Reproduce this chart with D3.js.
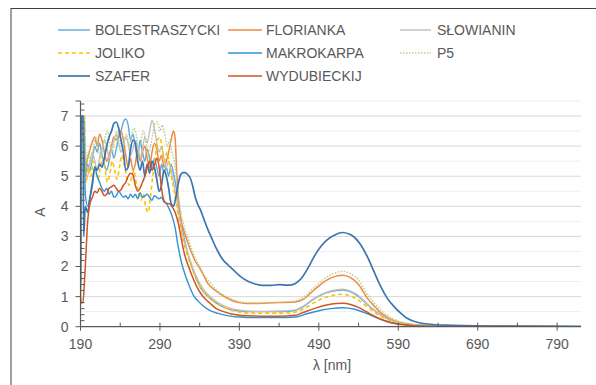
<!DOCTYPE html>
<html><head><meta charset="utf-8">
<script src="https://cdn.jsdelivr.net/npm/d3@7"></script>
<style>
html,body{margin:0;padding:0;background:#fff;}
svg{display:block;font-family:"Liberation Sans",Arial,sans-serif;}
</style></head>
<body><svg id="c" width="596" height="385"></svg>
<script>
// ---- data (λ [nm], A) ----
const seriesNames = ["BOLESTRASZYCKI","FLORIANKA","SŁOWIANIN","JOLIKO","MAKROKARPA","P5","SZAFER","WYDUBIECKIJ"];
const xTicks = [190,290,390,490,590,690,790];
const yTicks = [0,1,2,3,4,5,6,7];

const bolestraszycki = [[190,1.2],[191,7],[194,7],[196,5.0],[199,5.4],[202,5.2],[205,5.6],[208,6.0],[211,5.8],[214,6.1],[217,5.7],[220,5.4],[223,5.2],[226,5.5],[229,5.9],[232,5.6],[235,5.9],[238,6.3],[241,6.5],[244,6.8],[247,6.9],[250,6.7],[253,6.2],[256,6.4],[259,6.0],[262,5.6],[265,6.2],[268,5.8],[271,5.5],[274,5.9],[277,5.6],[280,5.2],[283,5.6],[286,5.3],[289,5.0],[292,5.4],[295,5.1],[298,5.3],[301,5.0],[304,5.4],[307,5.1],[310,4.7],[313,4.2],[316,3.6],[320,3.0],[325,2.45],[330,2.0],[335,1.65],[340,1.35],[345,1.15],[353,0.95],[360,0.8],[370,0.65],[380,0.56],[390,0.52],[400,0.5],[420,0.5],[440,0.5],[460,0.54],[470,0.66],[484,0.92],[500,1.13],[512,1.2],[520,1.22],[530,1.16],[540,1.0],[551,0.74],[560,0.54],[570,0.35],[580,0.22],[595,0.11],[610,0.06],[630,0.03],[680,0.01],[820,0.0]];
const florianka = [[190,1.3],[191,7],[194,7],[196,5.3],[199,5.6],[202,5.9],[205,6.15],[208,6.3],[211,6.0],[214,6.4],[217,6.2],[220,5.8],[223,5.5],[226,5.7],[229,6.0],[232,6.3],[235,6.2],[238,6.4],[241,6.5],[244,6.2],[247,5.7],[250,5.3],[253,5.6],[256,5.2],[259,5.4],[262,5.9],[265,5.5],[268,5.8],[271,6.0],[274,5.6],[277,5.3],[280,5.8],[283,6.1],[286,5.9],[289,5.5],[292,5.7],[295,5.3],[298,5.5],[301,5.8],[304,6.2],[307,6.5],[309,6.3],[311,5.2],[313,4.3],[316,3.6],[320,3.2],[325,2.8],[330,2.45],[335,2.15],[340,1.95],[345,1.7],[350,1.45],[360,1.2],[370,1.02],[380,0.88],[390,0.8],[400,0.77],[420,0.78],[440,0.8],[460,0.82],[470,0.9],[484,1.22],[500,1.55],[512,1.68],[520,1.71],[530,1.63],[540,1.4],[551,0.95],[560,0.68],[568,0.46],[577,0.3],[585,0.2],[600,0.1],[620,0.05],[650,0.02],[700,0.01],[820,0.0]];
const slowianin = [[190,1.2],[191,7],[194,7],[196,5.2],[199,5.0],[202,5.5],[205,5.8],[208,5.5],[211,5.2],[214,5.6],[217,5.9],[220,6.2],[223,6.0],[226,5.6],[229,5.9],[232,6.2],[235,6.4],[238,6.1],[241,5.8],[244,6.0],[247,6.3],[250,6.1],[253,5.7],[256,5.9],[259,6.2],[262,6.0],[265,5.6],[268,5.9],[271,6.3],[274,6.1],[277,6.5],[280,6.85],[283,6.6],[286,6.1],[289,5.8],[292,6.0],[295,5.6],[298,5.3],[301,5.5],[304,5.2],[307,4.8],[310,4.4],[313,3.9],[316,3.4],[320,2.9],[325,2.45],[330,2.05],[335,1.72],[340,1.45],[346,1.2],[353,1.0],[360,0.85],[370,0.7],[380,0.6],[390,0.55],[400,0.52],[420,0.51],[440,0.52],[460,0.56],[470,0.68],[484,0.94],[500,1.15],[512,1.23],[520,1.25],[530,1.18],[540,1.03],[551,0.76],[560,0.55],[570,0.36],[580,0.22],[595,0.11],[610,0.06],[630,0.03],[680,0.01],[820,0.0]];
const joliko = [[190,1.0],[192,7],[195,7],[197,4.8],[200,5.3],[203,5.0],[206,5.5],[209,5.2],[212,4.9],[215,5.3],[218,5.6],[221,5.2],[224,4.8],[227,5.1],[230,5.5],[233,5.2],[236,4.9],[239,5.3],[242,5.7],[245,5.4],[248,5.0],[251,4.7],[254,4.9],[257,5.2],[260,4.8],[263,4.5],[266,4.2],[269,4.4],[272,4.0],[275,3.8],[278,4.3],[281,5.0],[284,5.6],[287,6.2],[290,6.3],[293,5.9],[296,5.5],[299,5.8],[302,5.4],[305,4.9],[308,4.5],[311,4.0],[314,3.5],[318,3.0],[323,2.5],[328,2.1],[333,1.75],[338,1.45],[344,1.2],[351,0.98],[360,0.8],[370,0.65],[380,0.55],[390,0.49],[400,0.46],[420,0.45],[440,0.45],[460,0.48],[470,0.58],[484,0.8],[500,0.99],[512,1.06],[520,1.08],[530,1.02],[540,0.88],[551,0.66],[560,0.48],[570,0.32],[580,0.2],[595,0.1],[610,0.05],[630,0.02],[680,0.01],[820,0.0]];
const makrokarpa = [[190,1.0],[191,7],[194,7],[196,4.4],[199,4.0],[202,4.3],[205,4.7],[208,5.3],[211,5.0],[214,4.8],[217,4.6],[220,4.5],[223,4.6],[226,4.4],[229,4.5],[232,4.3],[235,4.35],[238,4.5],[241,4.4],[244,4.3],[247,4.35],[250,4.25],[253,4.4],[256,4.3],[259,4.4],[262,4.25],[265,4.45],[268,4.3],[271,4.35],[274,4.4],[277,4.3],[280,4.2],[283,4.35],[286,4.3],[289,4.25],[292,4.3],[295,4.15],[298,4.1],[301,3.95],[305,3.7],[309,3.3],[313,2.65],[317,2.15],[322,1.7],[327,1.35],[332,1.05],[338,0.85],[345,0.68],[352,0.55],[362,0.45],[375,0.37],[390,0.32],[410,0.3],[440,0.3],[460,0.32],[475,0.43],[490,0.53],[505,0.6],[520,0.63],[535,0.58],[550,0.44],[565,0.27],[580,0.14],[595,0.07],[615,0.03],[650,0.01],[820,0.0]];
const p5 = [[190,1.2],[191,7],[195,7],[197,5.5],[200,5.8],[203,5.4],[206,5.9],[209,6.3],[212,6.0],[215,5.6],[218,5.9],[221,6.3],[224,6.5],[227,6.1],[230,5.8],[233,6.2],[236,6.5],[239,6.3],[242,5.9],[245,6.2],[248,6.4],[251,6.0],[254,6.3],[257,6.6],[260,6.4],[263,5.8],[266,6.1],[269,6.5],[272,6.2],[275,5.7],[278,6.0],[281,6.4],[284,6.75],[287,6.8],[290,6.5],[293,6.7],[296,6.4],[299,6.0],[302,6.2],[305,5.8],[308,5.5],[311,4.9],[314,4.2],[317,3.7],[321,3.3],[326,2.9],[331,2.5],[336,2.2],[341,1.95],[346,1.72],[352,1.5],[360,1.25],[370,1.05],[380,0.92],[390,0.84],[400,0.8],[420,0.8],[440,0.82],[460,0.86],[470,0.97],[484,1.3],[500,1.65],[512,1.8],[520,1.84],[530,1.76],[540,1.55],[551,1.08],[560,0.78],[568,0.55],[577,0.36],[585,0.24],[600,0.12],[620,0.06],[650,0.02],[700,0.01],[820,0.0]];
const szafer = [[190,1.5],[191,7],[193,7],[194,3.0],[196,4.0],[199,3.8],[202,4.3],[205,4.8],[208,5.3],[211,5.2],[214,5.4],[217,5.3],[220,5.6],[223,6.0],[226,6.3],[229,6.5],[232,6.75],[235,6.8],[238,6.6],[241,6.2],[244,5.8],[247,5.2],[250,5.3],[253,5.9],[256,6.2],[259,6.1],[262,5.5],[265,5.2],[268,5.5],[271,5.0],[274,5.4],[277,5.1],[280,5.5],[283,5.3],[286,4.9],[289,4.5],[292,4.7],[295,5.2],[298,5.0],[301,4.6],[304,4.1],[307,4.0],[310,4.3],[313,4.75],[316,5.05],[319,5.12],[322,5.12],[325,5.05],[328,4.95],[331,4.7],[334,4.35],[337,4.1],[341,3.88],[345,3.6],[350,3.25],[355,2.95],[360,2.65],[365,2.4],[370,2.2],[375,2.07],[380,1.95],[390,1.7],[400,1.52],[410,1.42],[420,1.37],[430,1.37],[440,1.4],[450,1.38],[457,1.4],[463,1.48],[470,1.68],[477,1.98],[484,2.33],[492,2.65],[500,2.88],[510,3.05],[520,3.13],[528,3.08],[534,2.99],[542,2.75],[551,2.33],[560,1.8],[568,1.33],[576,0.95],[585,0.66],[593,0.45],[601,0.28],[615,0.14],[627,0.09],[648,0.05],[700,0.02],[820,0.01]];
const wydubieckij = [[190,1.0],[191,0.8],[193,0.8],[195,1.5],[197,2.5],[199,3.5],[202,4.1],[205,4.3],[208,4.5],[211,4.45],[214,4.6],[217,4.5],[220,4.35],[223,4.4],[226,4.6],[229,4.65],[232,4.7],[235,4.6],[238,4.5],[241,4.55],[244,4.7],[247,4.8],[250,5.0],[253,5.1],[256,5.05],[259,4.7],[262,4.5],[265,4.6],[268,4.8],[271,5.0],[274,5.3],[277,5.5],[280,5.2],[283,5.35],[286,5.6],[289,5.3],[292,4.6],[295,4.2],[298,4.1],[302,4.08],[305,4.0],[309,3.8],[313,3.45],[317,2.9],[321,2.4],[326,2.0],[331,1.65],[336,1.35],[341,1.12],[346,0.95],[353,0.78],[360,0.62],[370,0.5],[380,0.42],[390,0.38],[400,0.36],[420,0.35],[440,0.35],[460,0.38],[470,0.47],[484,0.6],[500,0.72],[512,0.77],[520,0.78],[530,0.74],[540,0.64],[551,0.48],[560,0.35],[570,0.23],[580,0.14],[595,0.07],[610,0.03],[640,0.01],[820,0.0]];

const seriesData = [bolestraszycki, florianka, slowianin, joliko, makrokarpa, p5, szafer, wydubieckij];
const colors = ["#5fa8dc","#ee8a45","#c0c0c0","#ffc000","#2f93d0","#b9cf8c","#3a76b0","#cf5427"];
const dashes = [null,null,null,"4,3",null,"1.5,1.5",null,null];
const widths = [1.4,1.5,1.4,1.6,1.4,1.5,1.7,1.5];

// ---- layout ----
const svg = d3.select("#c");
const m = {left:80.5, right:581, top:101, bottom:326.7};
const x = d3.scaleLinear().domain([190,820]).range([m.left, m.right]);
const y = d3.scaleLinear().domain([0,7.5]).range([m.bottom, m.top]);
const textCol = "#595959";

// frame
svg.append("rect").attr("x",11).attr("y",8.5).attr("width",600).attr("height",400)
  .attr("fill","none").attr("stroke","#404040").attr("stroke-width",1);

// gridlines
const minorG = d3.range(0.5,7.6,1);
svg.append("g").selectAll("line").data(minorG).join("line")
  .attr("x1",m.left).attr("x2",m.right).attr("y1",d=>y(d)).attr("y2",d=>y(d))
  .attr("stroke","#efefef").attr("stroke-width",1);
svg.append("g").selectAll("line").data(yTicks.filter(d=>d>0)).join("line")
  .attr("x1",m.left).attr("x2",m.right).attr("y1",d=>y(d)).attr("y2",d=>y(d))
  .attr("stroke","#d9d9d9").attr("stroke-width",1);

// lines
svg.append("clipPath").attr("id","pc").append("rect")
  .attr("x",m.left).attr("y",m.top-2).attr("width",m.right-m.left).attr("height",m.bottom-m.top+2);
const line = d3.line().x(d=>x(d[0])).y(d=>y(d[1])).curve(d3.curveMonotoneX);
const lg = svg.append("g").attr("clip-path","url(#pc)");
seriesData.forEach((s,i)=>{
  lg.append("path").datum(s).attr("d",line).attr("fill","none")
    .attr("stroke",colors[i]).attr("stroke-width",widths[i])
    .attr("stroke-dasharray",dashes[i]).attr("stroke-linejoin","round");
});

// x axis
const xAxis = svg.append("g").attr("transform",`translate(0,${m.bottom})`);
xAxis.append("line").attr("x1",m.left).attr("x2",m.right).attr("stroke","#595959").attr("stroke-width",1.2);
xAxis.selectAll("line.maj").data(xTicks).join("line").attr("class","maj")
  .attr("x1",d=>x(d)).attr("x2",d=>x(d)).attr("y1",-4).attr("y2",4).attr("stroke","#595959");
xAxis.selectAll("line.min").data(xTicks.map(d=>d+50)).join("line").attr("class","min")
  .attr("x1",d=>x(d)).attr("x2",d=>x(d)).attr("y1",-4).attr("y2",0).attr("stroke","#595959");
xAxis.selectAll("text").data(xTicks).join("text")
  .attr("x",d=>x(d)).attr("y",22).attr("text-anchor","middle")
  .attr("font-size",14).attr("fill",textCol).text(d=>d);

// y axis
const yAxis = svg.append("g").attr("transform",`translate(${m.left},0)`);
yAxis.append("line").attr("y1",m.top).attr("y2",m.bottom).attr("stroke","#595959").attr("stroke-width",1.2);
yAxis.selectAll("line.maj").data(yTicks.concat([7.5])).join("line").attr("class","maj")
  .attr("x1",-5).attr("x2",0).attr("y1",d=>y(d)).attr("y2",d=>y(d)).attr("stroke","#595959");
yAxis.selectAll("line.min").data(d3.range(0.2,7.5,0.2).filter(v=>Math.abs(v-Math.round(v))>0.01)).join("line").attr("class","min")
  .attr("x1",0).attr("x2",4).attr("y1",d=>y(d)).attr("y2",d=>y(d)).attr("stroke","#595959");
yAxis.selectAll("text").data(yTicks).join("text")
  .attr("x",-12).attr("y",d=>y(d)).attr("dy","0.35em").attr("text-anchor","end")
  .attr("font-size",14).attr("fill",textCol).text(d=>d);

// axis titles
svg.append("text").attr("transform","translate(45,212) rotate(-90)")
  .attr("text-anchor","middle").attr("font-size",14).attr("fill",textCol).text("A");
svg.append("text").attr("x",332).attr("y",370).attr("text-anchor","middle")
  .attr("font-size",14).attr("fill",textCol).text("λ [nm]");

// legend
const colX = [[58,90,95],[228,262,266],[400,431,437]];
const rowY = [30,53,76];
seriesNames.forEach((n,i)=>{
  const r = Math.floor(i/3), c = i%3;
  const g = svg.append("g");
  g.append("line").attr("x1",colX[c][0]).attr("x2",colX[c][1]).attr("y1",rowY[r]).attr("y2",rowY[r])
    .attr("stroke",colors[i]).attr("stroke-width",widths[i]).attr("stroke-dasharray",dashes[i]);
  g.append("text").attr("x",colX[c][2]).attr("y",rowY[r]).attr("dy","0.35em")
    .attr("font-size",14).attr("fill",textCol).text(n);
});
</script></body></html>
